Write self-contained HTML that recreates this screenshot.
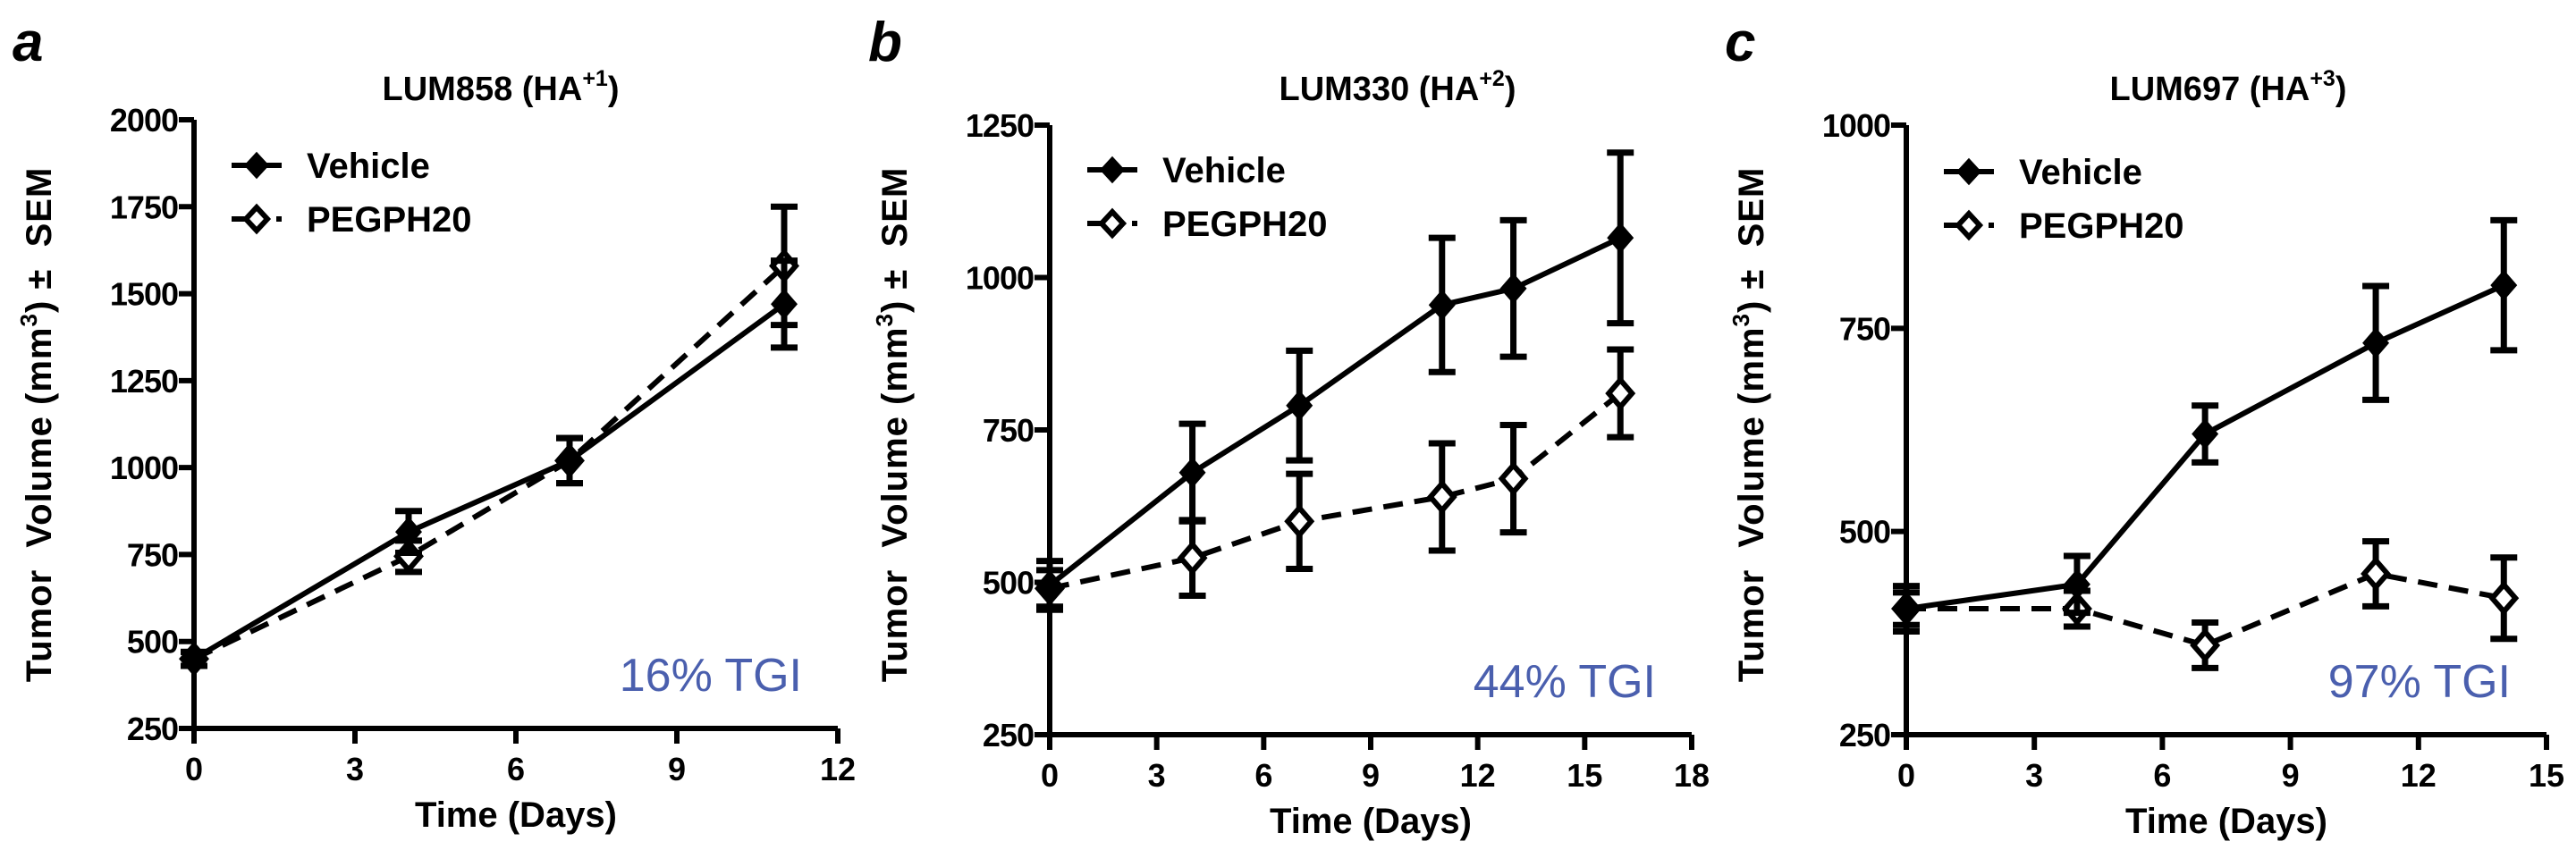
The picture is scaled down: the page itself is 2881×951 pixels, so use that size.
<!DOCTYPE html>
<html><head><meta charset="utf-8"><style>
html,body{margin:0;padding:0;background:#fff;}
svg{display:block;font-family:"Liberation Sans",Arial,sans-serif;}
</style></head><body>
<svg id="fig" width="2881" height="951" viewBox="0 0 2881 951" xmlns="http://www.w3.org/2000/svg"></svg>
<script>
// ---- Panel a data ----
const daysA = [0, 4, 7, 11];
const vehA = [450, 815, 1020, 1470];
const vehErrA = [20, 60, 65, 125];
const pegA = [450, 745, 1020, 1580];
const pegErrA = [20, 45, 65, 170];
const yTicksA = [250, 500, 750, 1000, 1250, 1500, 1750, 2000];
const xTicksA = [0, 3, 6, 9, 12];
// ---- Panel b data ----
const daysB = [0, 4, 7, 11, 13, 16];
const vehB = [495, 680, 790, 955, 982, 1065];
const vehErrB = [40, 80, 90, 110, 112, 140];
const pegB = [490, 540, 600, 640, 670, 810];
const pegErrB = [30, 62, 78, 88, 88, 72];
const yTicksB = [250, 500, 750, 1000, 1250];
const xTicksB = [0, 3, 6, 9, 12, 15, 18];
// ---- Panel c data ----
const daysC = [0, 4, 7, 11, 14];
const vehC = [405, 435, 620, 732, 803];
const vehErrC = [28, 35, 35, 70, 80];
const pegC = [405, 405, 360, 448, 418];
const pegErrC = [20, 22, 28, 40, 50];
const yTicksC = [250, 500, 750, 1000];
const xTicksC = [0, 3, 6, 9, 12, 15];

const NS = "http://www.w3.org/2000/svg";
const svg = document.getElementById('fig');
function mk(tag, attrs, parent, text){
  const e = document.createElementNS(NS, tag);
  for (const k in attrs) e.setAttribute(k, attrs[k]);
  if (text !== undefined) e.textContent = text;
  (parent || svg).appendChild(e);
  return e;
}
function panel(cfg){
  const g = mk('g', {});
  
  
  const X = v => cfg.x0 + (v - cfg.xmin) / (cfg.xmax - cfg.xmin) * (cfg.x1 - cfg.x0);
  const Y = v => cfg.y0 - (v - cfg.ymin) / (cfg.ymax - cfg.ymin) * (cfg.y0 - cfg.y1);
  const lt = mk('text', {x: cfg.x0 - 203, y: 68, 'font-size': 62, 'font-weight': 'bold', 'font-style': 'italic'}, g, cfg.letter);
  
  
  const tt = mk('text', {x: cfg.titleX, y: 112, 'font-size': 38, 'font-weight': 'bold', 'text-anchor': 'middle'}, g);
  
  
  mk('tspan', {}, tt, cfg.title + ' (HA');
  mk('tspan', {dy: -16, 'font-size': 25}, tt, cfg.sup);
  mk('tspan', {dy: 16}, tt, ')');
  const ax = mk('path', {d: `M${cfg.x0},${cfg.y1} V${cfg.y0} H${cfg.x1}`, stroke: '#000', 'stroke-width': 6, fill: 'none'}, g);
  
  
  cfg.yt.forEach(t => {
    mk('line', {x1: cfg.x0 - 17, x2: cfg.x0, y1: Y(t), y2: Y(t), stroke: '#000', 'stroke-width': 6}, g);
    const l = mk('text', {x: cfg.x0 - 18, y: Y(t) + 13, 'font-size': 36, 'font-weight': 'bold', 'text-anchor': 'end', 'letter-spacing': -1}, g, t);
    
    
  });
  cfg.xt.forEach(t => {
    mk('line', {x1: X(t), x2: X(t), y1: cfg.y0, y2: cfg.y0 + 17, stroke: '#000', 'stroke-width': 6}, g);
    const l = mk('text', {x: X(t), y: cfg.y0 + 58, 'font-size': 36, 'font-weight': 'bold', 'text-anchor': 'middle'}, g, t);
    
    
  });
  const xt = mk('text', {x: (cfg.x0 + cfg.x1) / 2, y: cfg.y0 + 110, 'font-size': 40, 'font-weight': 'bold', 'text-anchor': 'middle'}, g, 'Time (Days)');
  
  
  const ycx = cfg.x0 - 160, ycy = 475;
  const yt = mk('text', {x: ycx, y: ycy, 'font-size': 40, 'font-weight': 'bold', 'text-anchor': 'middle', 'letter-spacing': 1, transform: `rotate(-90 ${ycx} ${ycy})`}, g);
  
  
  mk('tspan', {}, yt, 'Tumor\u00A0\u00A0Volume\u00A0(mm');
  mk('tspan', {dy: -16, 'font-size': 26}, yt, '3');
  mk('tspan', {dy: 16}, yt, ')\u00A0\u00B1\u00A0\u00A0SEM');
  function series(days, vals, errs, dashed, filled, name){
    const sg = mk('g', {}, g);
    
    
    days.forEach((d, i) => {
      const x = X(d), a = Y(vals[i] + errs[i]), b = Y(vals[i] - errs[i]);
      mk('path', {d: `M${x},${a} V${b} M${x-15},${a} h30 M${x-15},${b} h30`, stroke: '#000', 'stroke-width': 7, fill: 'none'}, sg);
    });
    const pts = days.map((d, i) => X(d) + ',' + Y(vals[i])).join(' ');
    mk('polyline', {points: pts, stroke: '#000', 'stroke-width': 6, fill: 'none', 'stroke-dasharray': dashed ? '22,13' : 'none'}, sg);
    days.forEach((d, i) => {
      const x = X(d), y = Y(vals[i]);
      const m = mk('path', {d: `M${x},${y-15} L${x+13},${y} L${x},${y+15} L${x-13},${y} Z`, fill: filled ? '#000' : '#fff', stroke: '#000', 'stroke-width': filled ? 3 : 6}, sg);
      
      
    });
  }
  series(cfg.days, cfg.peg, cfg.pegErr, true, false, 'series-pegph20');
  series(cfg.days, cfg.veh, cfg.vehErr, false, true, 'series-vehicle');
  const lg = mk('g', {}, g);
  
  
  const lx = cfg.x0 + 42;
  [['Vehicle', 0, true], ['PEGPH20', 60, false]].forEach(([nm, dy, f]) => {
    const y = cfg.legY + dy;
    mk('line', {x1: lx, x2: lx + 56, y1: y, y2: y, stroke: '#000', 'stroke-width': 6, 'stroke-dasharray': f ? 'none' : '16,9'}, lg);
    mk('path', {d: `M${lx+28},${y-13} L${lx+40},${y} L${lx+28},${y+13} L${lx+16},${y} Z`, fill: f ? '#000' : '#fff', stroke: '#000', 'stroke-width': f ? 3 : 6}, lg);
    const t = mk('text', {x: lx + 84, y: y + 14, 'font-size': 40, 'font-weight': 'bold'}, lg, nm);
    
    
  });
  const tg = mk('text', {x: cfg.x1 - 40, y: cfg.y0 - 42, 'font-size': 52, fill: '#4a5fae', 'text-anchor': 'end'}, g, cfg.tgi);
  
  
}
panel({letter: 'a', title: 'LUM858', sup: '+1', titleX: 560, tgi: '16% TGI',
  x0: 217, x1: 937, xmin: 0, xmax: 12, y0: 815, y1: 134, ymin: 250, ymax: 2000, legY: 185,
  yt: yTicksA, xt: xTicksA, days: daysA, veh: vehA, vehErr: vehErrA, peg: pegA, pegErr: pegErrA});
panel({letter: 'b', title: 'LUM330', sup: '+2', titleX: 1563, tgi: '44% TGI',
  x0: 1174, x1: 1892, xmin: 0, xmax: 18, y0: 822, y1: 140, ymin: 250, ymax: 1250, legY: 190,
  yt: yTicksB, xt: xTicksB, days: daysB, veh: vehB, vehErr: vehErrB, peg: pegB, pegErr: pegErrB});
panel({letter: 'c', title: 'LUM697', sup: '+3', titleX: 2492, tgi: '97% TGI',
  x0: 2132, x1: 2848, xmin: 0, xmax: 15, y0: 822, y1: 140, ymin: 250, ymax: 1000, legY: 192,
  yt: yTicksC, xt: xTicksC, days: daysC, veh: vehC, vehErr: vehErrC, peg: pegC, pegErr: pegErrC});
</script>
</body></html>
